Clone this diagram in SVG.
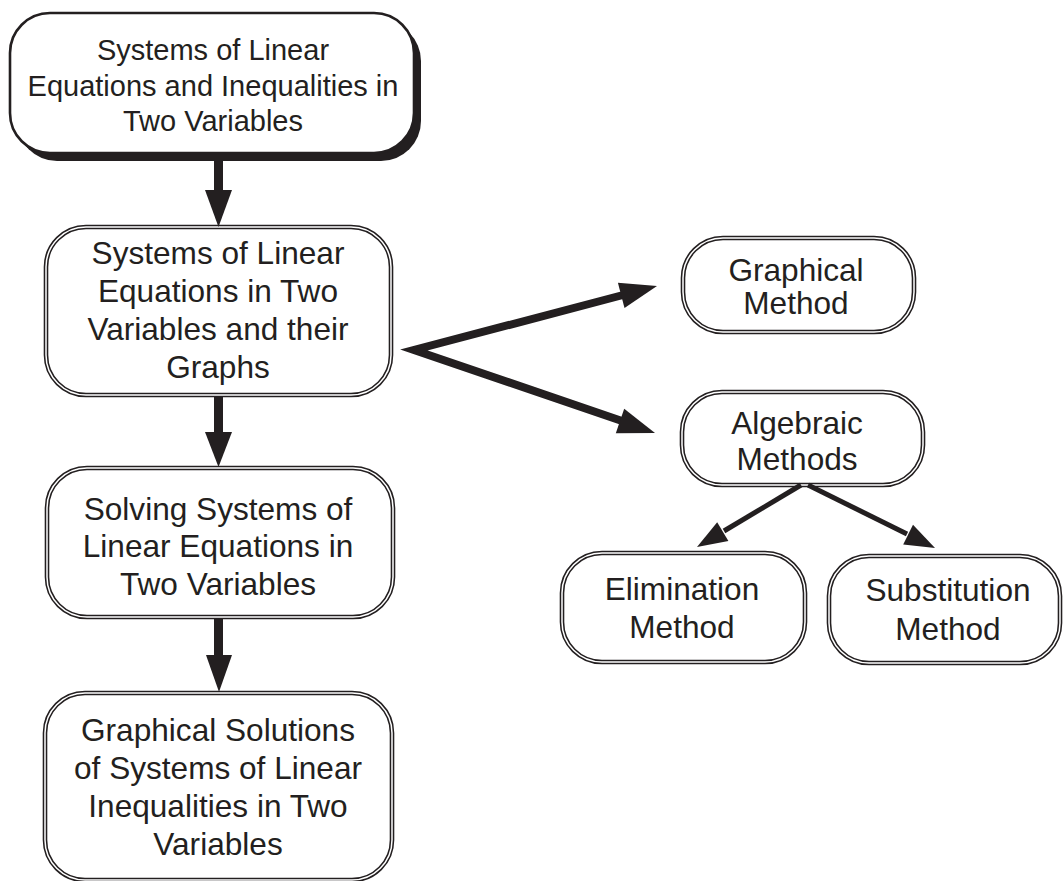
<svg xmlns="http://www.w3.org/2000/svg" width="1063" height="881" viewBox="0 0 1063 881">
<style>
text{font-family:"Liberation Sans",Arial,sans-serif;fill:#231f20;text-anchor:middle}
.t31{font-size:31.6px}
.t29{font-size:29px}
.outer{fill:#fff;stroke:#231f20;stroke-width:4.6}
.inner{fill:none;stroke:#fff;stroke-width:1.5}
.main{fill:#fff;stroke:#231f20;stroke-width:2.6}
.shadow{fill:#231f20}
.head{fill:#231f20}
.shaft{fill:none;stroke:#231f20;stroke-linejoin:miter;stroke-miterlimit:6}
</style>
<rect width="1063" height="881" fill="#fff"/>
<g id="n1">
<rect class="shadow" x="17" y="21" width="404" height="140" rx="40"/>
<rect class="main" x="10" y="13" width="404" height="140" rx="40"/>
<text class="t29" x="213" y="60">Systems of Linear</text>
<text class="t29" x="213" y="96">Equations and Inequalities in</text>
<text class="t29" x="213" y="131">Two Variables</text>
</g>
<g id="n2">
<rect class="outer" x="46" y="227" width="345" height="168" rx="40"/>
<rect class="inner" x="46" y="227" width="345" height="168" rx="40"/>
<text class="t31" x="218" y="264">Systems of Linear</text>
<text class="t31" x="218" y="302">Equations in Two</text>
<text class="t31" x="218" y="340">Variables and their</text>
<text class="t31" x="218" y="378">Graphs</text>
</g>
<g id="n3">
<rect class="outer" x="47" y="468" width="346" height="149" rx="40"/>
<rect class="inner" x="47" y="468" width="346" height="149" rx="40"/>
<text class="t31" x="218" y="520">Solving Systems of</text>
<text class="t31" x="218" y="557">Linear Equations in</text>
<text class="t31" x="218" y="595">Two Variables</text>
</g>
<g id="n4">
<rect class="outer" x="45" y="693" width="347" height="187" rx="40"/>
<rect class="inner" x="45" y="693" width="347" height="187" rx="40"/>
<text class="t31" x="218" y="741">Graphical Solutions</text>
<text class="t31" x="218" y="779">of Systems of Linear</text>
<text class="t31" x="218" y="817">Inequalities in Two</text>
<text class="t31" x="218" y="855">Variables</text>
</g>
<g id="n5">
<rect class="outer" x="683" y="238" width="231" height="94" rx="40"/>
<rect class="inner" x="683" y="238" width="231" height="94" rx="40"/>
<text class="t31" x="796" y="281">Graphical</text>
<text class="t31" x="796" y="314">Method</text>
</g>
<g id="n6">
<rect class="outer" x="682" y="392" width="241" height="93" rx="40"/>
<rect class="inner" x="682" y="392" width="241" height="93" rx="40"/>
<text class="t31" x="797" y="434">Algebraic</text>
<text class="t31" x="797" y="470">Methods</text>
</g>
<g id="n7">
<rect class="outer" x="562" y="553" width="243" height="109" rx="40"/>
<rect class="inner" x="562" y="553" width="243" height="109" rx="40"/>
<text class="t31" x="682" y="600">Elimination</text>
<text class="t31" x="682" y="638">Method</text>
</g>
<g id="n8">
<rect class="outer" x="829" y="556" width="231" height="107" rx="40"/>
<rect class="inner" x="829" y="556" width="231" height="107" rx="40"/>
<text class="t31" x="948" y="601">Substitution</text>
<text class="t31" x="948" y="640">Method</text>
</g>
<g id="connectors">
<rect class="head" x="214" y="160" width="9" height="32"/>
<polygon class="head" points="205,190 232,190 218.5,227"/>
<rect class="head" x="214" y="396" width="9" height="38"/>
<polygon class="head" points="205,432 232,432 218.5,467"/>
<rect class="head" x="214" y="618" width="9" height="39"/>
<polygon class="head" points="206,655 232,655 219,692"/>
<path class="shaft" stroke-width="8" d="M623,295 L414,350 L622,421"/>
<polygon class="head" points="657,286 624.5,308 617.9,282.8"/>
<polygon class="head" points="655,433 615.8,433.2 624.2,408.7"/>
<path class="shaft" stroke-width="5" d="M801,485 L724,531"/>
<polygon class="head" points="697,547 728.4,541.1 717.2,522.2"/>
<path class="shaft" stroke-width="5" d="M808,485 L907,534"/>
<polygon class="head" points="935,548 903.2,544.5 913,524.8"/>
</g>
</svg>
